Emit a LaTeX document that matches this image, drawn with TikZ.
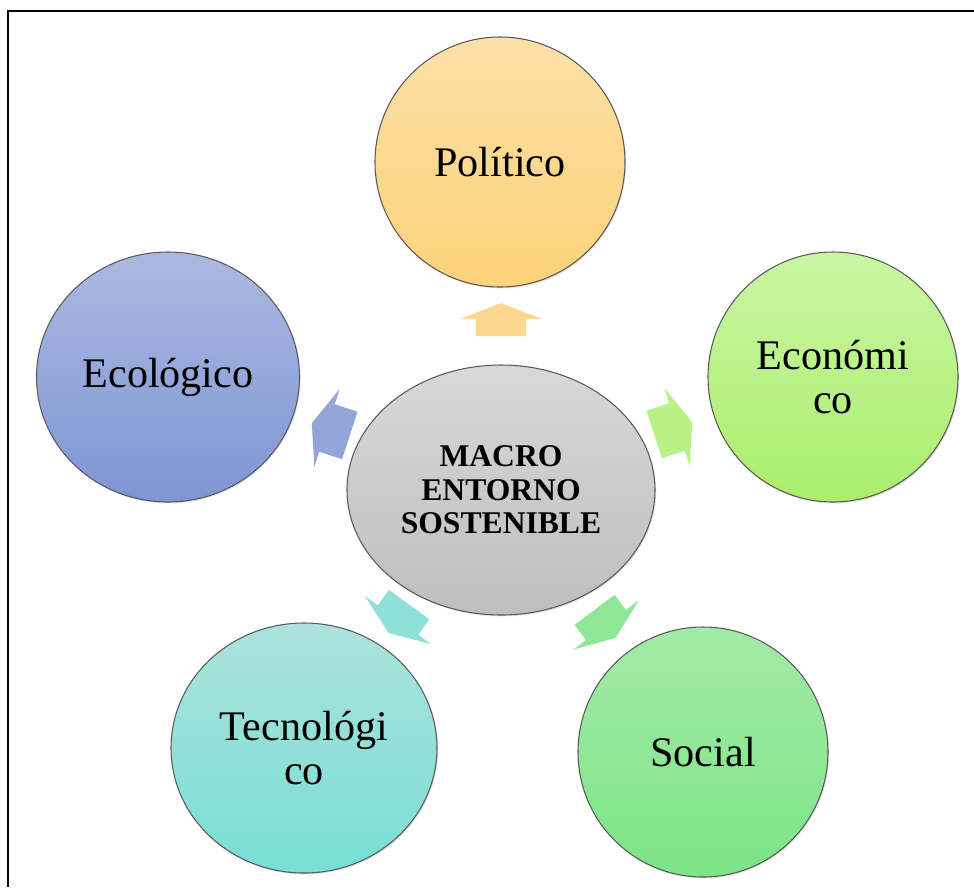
\documentclass[tikz,border=0pt]{standalone}
\usepackage{fontspec}
\setmainfont{Liberation Serif}
\usepackage{tikz}
\usetikzlibrary{shapes.geometric, shadows}

\definecolor{polTop}{RGB}{252,224,168}
\definecolor{polBot}{RGB}{252,210,122}
\definecolor{ecoTop}{RGB}{202,246,164}
\definecolor{ecoBot}{RGB}{170,238,108}
\definecolor{socTop}{RGB}{164,234,168}
\definecolor{socBot}{RGB}{124,228,134}
\definecolor{tecTop}{RGB}{172,226,220}
\definecolor{tecBot}{RGB}{120,222,212}
\definecolor{eclTop}{RGB}{172,184,224}
\definecolor{eclBot}{RGB}{126,150,212}
\definecolor{macTop}{RGB}{216,216,216}
\definecolor{macBot}{RGB}{190,190,190}

\begin{document}
\begin{tikzpicture}[x=0.02cm, y=-0.02cm]
	\tikzset{
		blob/.style={ellipse, draw=black!65, line width=0.6pt, align=center,
			font=\fontsize{24}{25.5}\selectfont,
			drop shadow={opacity=0.25, shadow xshift=0.6pt, shadow yshift=-0.8pt}},
		blockarr/.style={draw=none}
	}
	\useasboundingbox (0,0) rectangle (974,887);
	\draw[line width=1.4pt] (8,887) -- (8,11) -- (974,11);

	\node[blob, top color=polTop, bottom color=polBot, minimum width=250*0.02cm, minimum height=250*0.02cm] (pol) at (500,162) {Político};
	\node[blob, top color=ecoTop, bottom color=ecoBot, minimum width=250*0.02cm, minimum height=250*0.02cm] (eco) at (833,377) {Económi\\co};
	\node[blob, top color=socTop, bottom color=socBot, minimum width=250*0.02cm, minimum height=250*0.02cm] (soc) at (703,752) {Social};
	\node[blob, top color=tecTop, bottom color=tecBot, minimum width=266*0.02cm, minimum height=250*0.02cm] (tec) at (304,748) {Tecnológi\\co};
	\node[blob, top color=eclTop, bottom color=eclBot, minimum width=263*0.02cm, minimum height=250*0.02cm] (ecl) at (168,377) {Ecológico};
	\node[blob, top color=macTop, bottom color=macBot, minimum width=308*0.02cm, minimum height=250*0.02cm,
		font=\bfseries\fontsize{18}{19}\selectfont] (macro) at (501,490) {MACRO\\ENTORNO\\SOSTENIBLE};

	\foreach \px/\py/\ang/\ca/\cb/\len in {501/319/90/polTop/polBot/17, 677/427/18/ecoTop/ecoBot/24,
			606/625/-53/socTop/socBot/19, 398/620/-126/tecTop/tecBot/19, 327/428/162/eclTop/eclBot/24}
	{
		\begin{scope}[shift={(\px,\py)}, rotate=\ang]
			\fill[blockarr, fill=\ca!45!\cb]
				(-\len,-25) -- (0,-25) -- (0,-41) -- (16,0) -- (0,41) -- (0,25) -- (-\len,25) -- cycle;
		\end{scope}
	}
\end{tikzpicture}
\end{document}
